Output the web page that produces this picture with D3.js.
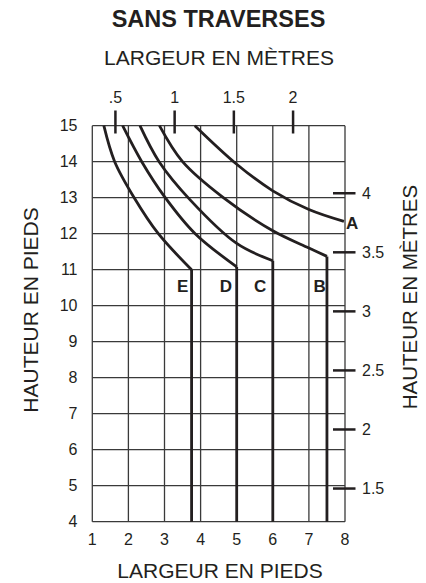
<!DOCTYPE html>
<html><head><meta charset="utf-8">
<script src="https://cdn.jsdelivr.net/npm/d3@7"></script>
<style>body{margin:0;background:#fff}svg{display:block}text{font-family:"Liberation Sans",Arial,Helvetica,sans-serif;fill:#231f20}</style>
</head><body>
<script>
// Data
const feetX = [1,2,3,4,5,6,7,8];
const feetY = [4,5,6,7,8,9,10,11,12,13,14,15];
const metresTop = [0.5,1,1.5,2];
const metresTopLabels = [".5","1","1.5","2"];
const metresRight = [1.5,2,2.5,3,3.5,4];
const metresRightLabels = ["1.5","2","2.5","3","3.5","4"];
const FT_PER_M = 3.28084;
// curves: [width ft, height ft]; last point of B..E is the knee where the line drops to 4 ft
const curveA = [[3.84,15],[5.0,13.93],[6.0,13.19],[7.0,12.67],[7.97,12.34]];
const curveB = [[2.86,15],[3.5,14],[4.63,13.0],[6.0,12.08],[7.0,11.6],[7.5,11.37]];
const curveC = [[2.32,15],[2.85,14],[3.71,12.94],[5.0,11.73],[6.0,11.25]];
const curveD = [[1.84,15],[2.37,14],[3.0,13.03],[3.85,12.0],[5.0,11.08]];
const curveE = [[1.32,15],[1.62,14],[2.16,13],[2.83,12],[3.75,11.0]];
const dropLabels = ["B","C","D","E"];
const curveLabels = ["A","B","C","D","E"];

const W=426,H=583;
const svg=d3.select("body").append("svg").attr("width",W).attr("height",H);
const x=d3.scaleLinear().domain([1,8]).range([92.3,345]);
const y=d3.scaleLinear().domain([4,15]).range([521.7,125.7]);
const ink="#231f20";

// grid
const g=svg.append("g");
g.selectAll(".vx").data(feetX).enter().append("line")
 .attr("x1",d=>x(d)).attr("x2",d=>x(d)).attr("y1",y(4)).attr("y2",y(15))
 .attr("stroke","#3a3a3a").attr("stroke-width",1.3);
g.selectAll(".hy").data(feetY).enter().append("line")
 .attr("y1",d=>y(d)).attr("y2",d=>y(d)).attr("x1",x(1)).attr("x2",x(8))
 .attr("stroke","#3a3a3a").attr("stroke-width",1.3);

// axes tick labels (feet)
svg.selectAll(".bx").data(feetX).enter().append("text")
 .attr("x",d=>x(d)).attr("y",545).attr("text-anchor","middle").attr("font-size",16).text(d=>d);
svg.selectAll(".ly").data(feetY).enter().append("text")
 .attr("x",77.5).attr("y",d=>y(d)).attr("dy","0.36em").attr("text-anchor","end").attr("font-size",16).text(d=>d);

// metre ticks top
const xm=d=>x(d*FT_PER_M);
svg.selectAll(".tm").data(metresTop).enter().append("line")
 .attr("x1",xm).attr("x2",xm).attr("y1",110.5).attr("y2",133.5).attr("stroke",ink).attr("stroke-width",2.5);
svg.selectAll(".tml").data(metresTop).enter().append("text")
 .attr("x",xm).attr("y",102.5).attr("text-anchor","middle").attr("font-size",16).text((d,i)=>metresTopLabels[i]);
// metre ticks right
const ym=d=>y(d*FT_PER_M);
svg.selectAll(".rm").data(metresRight).enter().append("line")
 .attr("y1",ym).attr("y2",ym).attr("x1",333).attr("x2",355.5).attr("stroke",ink).attr("stroke-width",2.5);
svg.selectAll(".rml").data(metresRight).enter().append("text")
 .attr("x",362).attr("y",ym).attr("dy","0.36em").attr("font-size",16).text((d,i)=>metresRightLabels[i]);

// curves
const line=d3.line().x(d=>x(d[0])).y(d=>y(d[1])).curve(d3.curveCatmullRom.alpha(0.5));
const curves=[curveA,curveB,curveC,curveD,curveE];
svg.selectAll(".cv").data(curves).enter().append("path")
 .attr("d",line).attr("fill","none").attr("stroke",ink).attr("stroke-width",2.8).attr("stroke-linejoin","round");
const dropPts={B:curveB,C:curveC,D:curveD,E:curveE};
svg.selectAll(".dr").data(dropLabels).enter().append("path")
 .attr("d",k=>{const p=dropPts[k][dropPts[k].length-1];return "M"+x(p[0])+","+y(p[1])+"L"+x(p[0])+","+y(4);})
 .attr("fill","none").attr("stroke",ink).attr("stroke-width",2.8);

// curve labels
const labelPos={A:[8.03,12.3],B:[7.3,10.55],C:[5.65,10.55],D:[4.7,10.55],E:[3.5,10.55]};
svg.selectAll(".cl").data(curveLabels).enter().append("text")
 .attr("x",d=>x(labelPos[d][0])).attr("y",d=>y(labelPos[d][1]))
 .attr("dy","0.36em").attr("text-anchor",d=>d==="A"?"start":"middle")
 .attr("font-size",17).attr("font-weight","bold").text(d=>d);

// titles
svg.append("text").attr("x",218.5).attr("y",27).attr("text-anchor","middle")
 .attr("font-size",23.5).attr("font-weight","bold").text("SANS TRAVERSES");
svg.append("text").attr("x",219).attr("y",65).attr("text-anchor","middle")
 .attr("font-size",21).text("LARGEUR EN MÈTRES");
svg.append("text").attr("x",220).attr("y",578).attr("text-anchor","middle")
 .attr("font-size",21).text("LARGEUR EN PIEDS");
svg.append("text").attr("transform","translate(38,310) rotate(-90)").attr("text-anchor","middle")
 .attr("font-size",21).text("HAUTEUR EN PIEDS");
svg.append("text").attr("transform","translate(417,297) rotate(-90)").attr("text-anchor","middle")
 .attr("font-size",20.5).text("HAUTEUR EN MÈTRES");
</script>
</body></html>
